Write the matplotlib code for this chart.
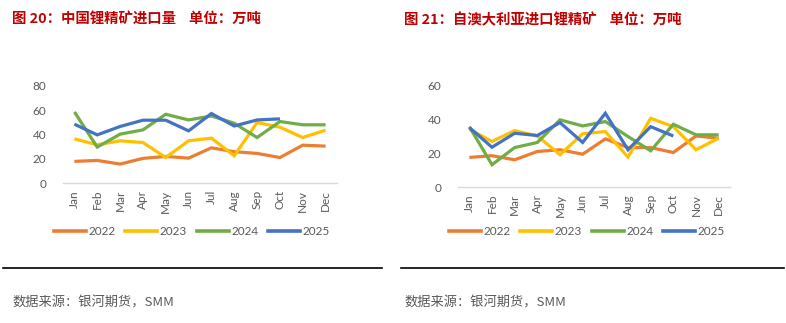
import matplotlib
matplotlib.use("Agg")
import matplotlib.pyplot as plt
from matplotlib.lines import Line2D

plt.rcParams['font.family'] = ['Noto Sans CJK SC', 'DejaVu Sans']

months = ["Jan", "Feb", "Mar", "Apr", "May", "Jun",
          "Jul", "Aug", "Sep", "Oct", "Nov", "Dec"]
years = ["2022", "2023", "2024", "2025"]
colors = ["#ED7D31", "#FFC000", "#70AD47", "#4472C4"]

# China lithium concentrate imports (10k t)
china_2022 = [17.8, 18.6, 15.6, 20.3, 21.9, 20.5, 29.0, 25.8, 24.4, 21.0, 31.2, 30.4]
china_2023 = [36.4, 31.5, 34.8, 33.4, 21.0, 34.8, 37.0, 22.5, 49.9, 46.0, 37.5, 43.6]
china_2024 = [58.6, 29.6, 40.3, 43.8, 56.7, 52.0, 55.3, 49.3, 37.5, 50.7, 48.0, 48.0]
china_2025 = [48.5, 39.7, 46.6, 51.8, 51.8, 43.0, 57.3, 47.0, 52.0, 52.9]

# Imports of lithium concentrate from Australia (10k t)
aus_2022 = [17.4, 18.4, 16.0, 20.9, 21.9, 19.3, 28.3, 23.2, 23.2, 20.3, 30.0, 28.7]
aus_2023 = [34.0, 26.8, 33.2, 30.0, 19.0, 31.3, 32.6, 17.6, 40.4, 35.5, 21.9, 28.7]
aus_2024 = [35.5, 13.1, 23.2, 26.2, 39.5, 35.9, 38.5, 29.7, 21.3, 36.9, 30.7, 30.7]
aus_2025 = [35.0, 23.4, 31.6, 30.3, 37.9, 26.2, 43.4, 21.9, 35.5, 30.0]

china_series = [china_2022, china_2023, china_2024, china_2025]
aus_series = [aus_2022, aus_2023, aus_2024, aus_2025]

W, H = 786, 323
fig = plt.figure(figsize=(W / 100, H / 100), dpi=100)

tick_color = "#595959"
title_color = "#C00000"


def px_axes(x0, y_top, x1, y_bottom):
    return fig.add_axes([x0 / W, 1 - y_bottom / H, (x1 - x0) / W, (y_bottom - y_top) / H])


def draw_panel(ax, series, ymax, step):
    for vals, c, yr in zip(series, colors, years):
        ax.plot(range(len(vals)), vals, color=c, lw=2.3, solid_capstyle="butt",
                solid_joinstyle="miter", label=yr)
    ax.set_xlim(-0.5, 11.5)
    ax.set_ylim(0, ymax)
    ax.set_yticks(range(0, ymax + 1, step))
    ax.set_xticks(range(12))
    ax.set_xticklabels(months, rotation=90, family=["Lato", "DejaVu Sans"])
    for lab in ax.get_yticklabels():
        lab.set_family(["Lato", "DejaVu Sans"])
    ax.tick_params(axis="both", length=0, labelsize=8.5, colors=tick_color)
    ax.tick_params(axis="y", pad=12)
    ax.tick_params(axis="x", pad=5)
    for s in ["top", "right", "left"]:
        ax.spines[s].set_visible(False)
    ax.spines["bottom"].set_color("#D9D9D9")
    ax.spines["bottom"].set_linewidth(1.0)
    ax.patch.set_alpha(0)


ax1 = px_axes(63, 86, 337, 183)
draw_panel(ax1, china_series, 80, 20)
ax2 = px_axes(458, 85, 730, 187)
draw_panel(ax2, aus_series, 60, 20)

handles = [Line2D([], [], color=c, lw=2.6) for c in colors]
for cx in (192, 587):
    fig.legend(handles, years, loc="center", bbox_to_anchor=(cx / W, 1 - 232 / H),
               ncol=4, frameon=False, handlelength=2.7, handletextpad=0.2,
               columnspacing=0.85, prop={"family": ["Lato", "DejaVu Sans"], "size": 8.5},
               labelcolor=tick_color)

fig.text(12 / W, 1 - 20 / H, "图 20：中国锂精矿进口量    单位：万吨", color=title_color,
         fontsize=10.4, fontweight="bold", ha="left", va="center")
fig.text(404 / W, 1 - 20 / H, "图 21：自澳大利亚进口锂精矿    单位：万吨", color=title_color,
         fontsize=10.4, fontweight="bold", ha="left", va="center")

for x0, x1 in ((3, 382), (401, 784)):
    fig.add_artist(Line2D([x0 / W, x1 / W], [1 - 268 / H, 1 - 268 / H],
                          color="black", lw=1.2))

for x0 in (12, 404):
    fig.text(x0 / W, 1 - 303 / H, "数据来源：银河期货，SMM", color=tick_color,
             fontsize=9.5, ha="left", va="center")

fig.savefig("out.png", dpi=100)
